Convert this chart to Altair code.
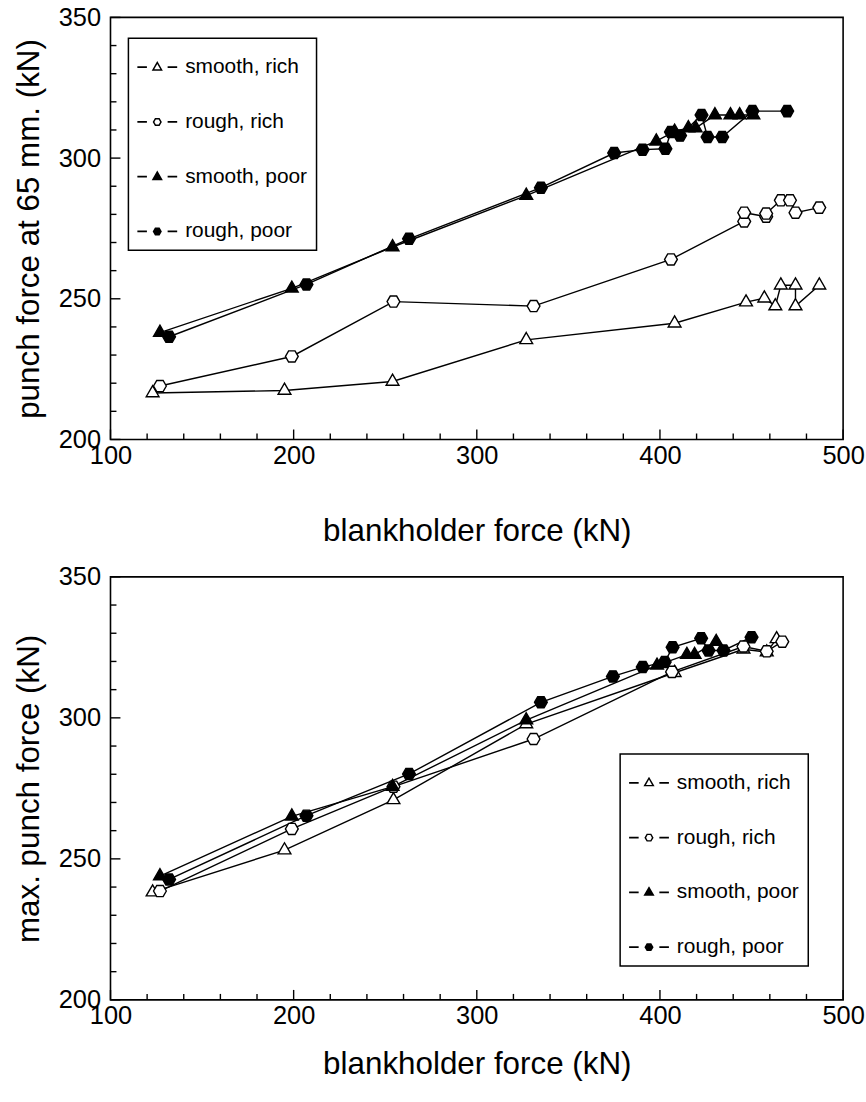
import altair as alt
import pandas as pd

SERIES = ["smooth, rich", "rough, rich", "smooth, poor", "rough, poor"]

# ---------------- top panel: punch force at 65 mm (kN) ----------------
top_sr_x = [123, 195, 254, 327, 408, 447, 457, 463, 466, 474, 474, 487]
top_sr_y = [216.5, 217.4, 220.6, 235.4, 241.3, 248.8, 250.2, 247.4, 254.8, 254.8, 247.4, 254.8]
top_rr_x = [127, 199, 254.5, 331, 406, 446, 446, 458, 458, 466, 471, 474, 487]
top_rr_y = [219.0, 229.5, 249.0, 247.4, 264.0, 277.5, 280.6, 279.2, 280.3, 285.0, 285.0, 280.6, 282.4]
top_sp_x = [127, 199, 254, 327, 398, 408, 415.5, 419.5, 430, 438.5, 443.5, 451]
top_sp_y = [238.0, 253.7, 268.4, 286.7, 306.0, 309.5, 310.7, 310.7, 315.3, 315.3, 315.3, 315.3]
top_rp_x = [132, 207, 263, 335, 375, 390.5, 403, 406, 411, 422.7, 426, 434, 450.5, 469.5]
top_rp_y = [236.5, 255.1, 271.3, 289.5, 301.8, 303.0, 303.3, 309.3, 308.0, 315.3, 307.5, 307.5, 316.7, 316.7]

# ---------------- bottom panel: max. punch force (kN) ----------------
bot_sr_x = [123, 195, 254.5, 327, 408, 445.6, 458.3, 463.7]
bot_sr_y = [238.2, 253.1, 270.9, 297.8, 316.0, 324.3, 323.3, 328.0]
bot_rr_x = [127, 199, 254.5, 331, 406.6, 445.6, 458.3, 466.8]
bot_rr_y = [238.6, 260.6, 275.6, 292.5, 316.3, 325.3, 323.6, 327.0]
bot_sp_x = [127, 199, 254, 327, 398.4, 414.7, 418.9, 430.7]
bot_sp_y = [243.9, 265.1, 275.6, 299.2, 318.6, 322.4, 322.4, 327.0]
bot_rp_x = [132, 207, 263, 335, 374.3, 390.6, 402.6, 406.9, 422.5, 426.5, 434.7, 450.0]
bot_rp_y = [242.7, 265.3, 280.1, 305.5, 314.7, 318.0, 319.8, 325.0, 328.2, 323.9, 323.9, 328.6]

# axis tick values
X_MAJOR = [100, 200, 300, 400, 500]
X_MINOR = [120, 140, 160, 180, 220, 240, 260, 280, 320, 340, 360, 380, 420, 440, 460, 480]
Y_MAJOR = [200, 250, 300, 350]
Y_MINOR = [210, 220, 230, 240, 260, 270, 280, 290, 310, 320, 330, 340]

FONT = "Liberation Sans"
# plot markers
TRI = "M0,-1.15L1,0.58L-1,0.58Z"
HEX = "M1,0L0.5,-0.87L-0.5,-0.87L-1,0L-0.5,0.87L0.5,0.87Z"
# legend symbols "-o-": dashes and outlines drawn as filled geometry
DASH = "M-1,-0.042L-0.52,-0.042L-0.52,0.042L-1,0.042ZM0.52,-0.042L1,-0.042L1,0.042L0.52,0.042Z"
TRI_OUT = "M0,-0.31L0.28,0.175L-0.28,0.175Z"
TRI_IN = "M0,-0.165L-0.153,0.1L0.153,0.1Z"
HEX_OUT = "M0.23,0L0.115,-0.2L-0.115,-0.2L-0.23,0L-0.115,0.2L0.115,0.2Z"
HEX_IN = "M0.145,0L0.072,0.126L-0.072,0.126L-0.145,0L-0.072,-0.126L0.072,-0.126Z"
LEG_SHAPES = [DASH + TRI_OUT + TRI_IN, DASH + HEX_OUT + HEX_IN, DASH + TRI_OUT, DASH + HEX_OUT]
PLOT_SHAPES = [TRI, HEX, TRI, HEX]
FILLS = ["white", "white", "black", "black"]

W = 736


def table(groups):
    rows = []
    for name, xs, ys in groups:
        for i, (x, y) in enumerate(zip(xs, ys)):
            rows.append({"series": name, "x": x, "y": y, "i": i})
    return pd.DataFrame(rows)


def panel(df, ytitle, H, legx, legy, xtitle_pad):
    sx = alt.Scale(domain=[100, 500], nice=False, zero=False)
    sy = alt.Scale(domain=[200, 350], nice=False, zero=False)
    xaxis = alt.Axis(values=X_MAJOR, ticks=False, tickSize=0, domain=False, grid=False,
                     labelFont=FONT, labelFontSize=25.5, labelPadding=4, labelColor="black",
                     labelFlush=False, format="d",
                     title="blankholder force (kN)", titleFont=FONT, titleFontSize=31.5,
                     titleFontWeight="normal", titleColor="black", titlePadding=xtitle_pad)
    yaxis = alt.Axis(values=Y_MAJOR, ticks=False, tickSize=0, domain=False, grid=False,
                     labelFont=FONT, labelFontSize=25.5, labelPadding=10, labelColor="black",
                     labelFlush=False, format="d",
                     title=ytitle, titleFont=FONT, titleFontSize=31.5,
                     titleFontWeight="normal", titleColor="black", titlePadding=13)

    line = alt.Chart(df).mark_line(color="black", strokeWidth=1.4).encode(
        x=alt.X("x:Q", scale=sx, axis=xaxis),
        y=alt.Y("y:Q", scale=sy, axis=yaxis),
        detail="series:N",
        order="i:Q",
    )
    pts = alt.Chart(df).mark_point(filled=True, stroke="black", strokeWidth=1.4,
                                   size=165, opacity=1).encode(
        x=alt.X("x:Q", scale=sx),
        y=alt.Y("y:Q", scale=sy),
        shape=alt.Shape("series:N", scale=alt.Scale(domain=SERIES, range=PLOT_SHAPES), legend=None),
        fill=alt.Fill("series:N", scale=alt.Scale(domain=SERIES, range=FILLS), legend=None),
    )
    leg_props = dict(title=None, orient="none", legendX=legx, legendY=legy,
                     strokeColor="black", padding=9, labelFont=FONT, labelFontSize=21,
                     labelColor="black", symbolSize=1600, symbolStrokeWidth=0,
                     symbolFillColor="black", symbolOpacity=1, rowPadding=25,
                     labelOffset=8, values=SERIES)
    # legend-only layer: no rows survive the filter, the legend comes from the explicit scale domain
    leg = alt.Chart(df).transform_filter("false").mark_point(
        filled=True, color="black", opacity=1).encode(
        x=alt.X("x:Q", scale=sx),
        y=alt.Y("y:Q", scale=sy),
        shape=alt.Shape("series:N", scale=alt.Scale(domain=SERIES, range=LEG_SHAPES),
                        legend=alt.Legend(**leg_props)),
    )

    xmaj = alt.Chart(pd.DataFrame({"x": X_MAJOR})).mark_rule(color="black", strokeWidth=1.4).encode(
        x=alt.X("x:Q", scale=sx), y=alt.value(H), y2=alt.value(H - 10))
    xmin = alt.Chart(pd.DataFrame({"x": X_MINOR})).mark_rule(color="black", strokeWidth=1.4).encode(
        x=alt.X("x:Q", scale=sx), y=alt.value(H), y2=alt.value(H - 6))
    ymaj = alt.Chart(pd.DataFrame({"y": Y_MAJOR})).mark_rule(color="black", strokeWidth=1.4).encode(
        y=alt.Y("y:Q", scale=sy), x=alt.value(0), x2=alt.value(10))
    ymin = alt.Chart(pd.DataFrame({"y": Y_MINOR})).mark_rule(color="black", strokeWidth=1.4).encode(
        y=alt.Y("y:Q", scale=sy), x=alt.value(0), x2=alt.value(6))

    return alt.layer(line, xmaj, xmin, ymaj, ymin, pts, leg).resolve_scale(
        shape="independent").properties(width=W, height=H)


top_df = table([(SERIES[0], top_sr_x, top_sr_y), (SERIES[1], top_rr_x, top_rr_y),
                (SERIES[2], top_sp_x, top_sp_y), (SERIES[3], top_rp_x, top_rp_y)])
bot_df = table([(SERIES[0], bot_sr_x, bot_sr_y), (SERIES[1], bot_rr_x, bot_rr_y),
                (SERIES[2], bot_sp_x, bot_sp_y), (SERIES[3], bot_rp_x, bot_rp_y)])

top = panel(top_df, "punch force at 65 mm. (kN)", 424, 18, 21, 47)
bot = panel(bot_df, "max. punch force (kN)", 425, 512, 178, 19)

chart = alt.vconcat(top, bot, spacing=16).properties(
    padding={"left": 12, "top": 2, "right": 0, "bottom": 0},
    background="white",
).configure_view(stroke="black", strokeWidth=1.6).configure_legend(strokeWidth=1.5)

chart.save("out.html", embed_options={"renderer": "svg", "actions": False})
